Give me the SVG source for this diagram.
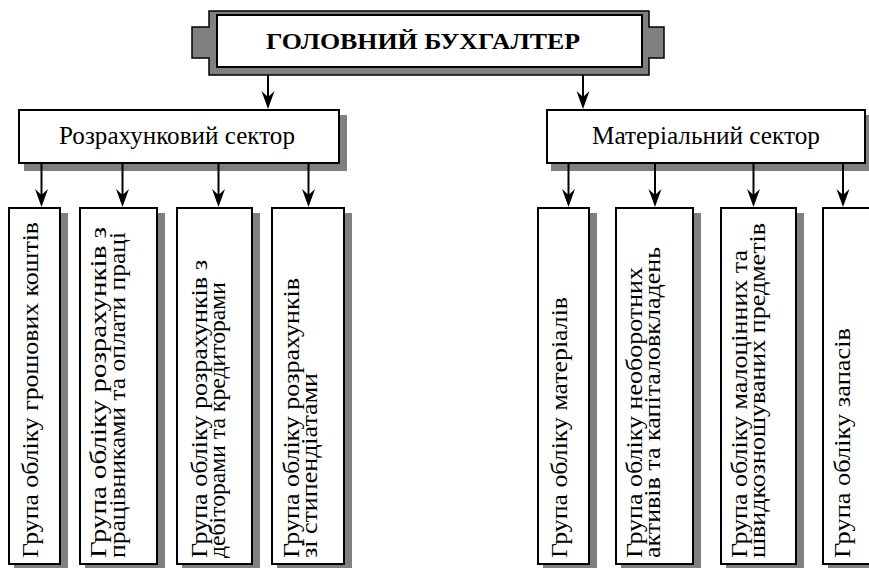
<svg xmlns="http://www.w3.org/2000/svg" width="869" height="568" viewBox="0 0 869 568">
  <style>
    .frame { fill: #808080; stroke: #000; stroke-width: 1.5; }
    .box { fill: #fff; stroke: #000; stroke-width: 2; }
    .shadow { fill: #808080; }
    .title { font-family: "Liberation Serif", "Times New Roman", serif; font-size: 24px; font-weight: bold; fill: #000; }
    .sector { font-family: "Liberation Serif", "Times New Roman", serif; font-size: 25px; fill: #000; }
    .group { font-family: "Liberation Serif", "Times New Roman", serif; font-size: 23px; fill: #000; }
    .link { stroke: #000; stroke-width: 2; fill: none; marker-end: url(#arrow); }
  </style>
  <defs>
    <marker id="arrow" markerUnits="userSpaceOnUse" viewBox="-12 -8 19 16" refX="0" refY="0" markerWidth="19" markerHeight="16" orient="auto">
      <path d="M6,0 L-12,-6.5 L-6,0 L-12,6.5 Z" fill="#000"/>
    </marker>
  </defs>

  <rect width="869" height="568" fill="#fff"/>

  <!-- chief accountant -->
  <g id="chief">
    <path class="frame" d="M209,11 H649 V27 H664 V58 H649 V75 H209 V58 H192 V27 H209 Z"/>
    <rect class="box" x="217" y="15" width="425" height="52" stroke-width="1.5"/>
    <text class="title" x="423" y="48.5" text-anchor="middle" textLength="314" lengthAdjust="spacingAndGlyphs">ГОЛОВНИЙ БУХГАЛТЕР</text>
  </g>

  <!-- sectors -->
  <g id="sector-settlements">
    <rect class="shadow" x="24" y="115" width="323" height="56"/>
    <rect class="box" x="19" y="110" width="320" height="53"/>
    <text class="sector" x="177" y="143.5" text-anchor="middle" textLength="236" lengthAdjust="spacingAndGlyphs">Розрахунковий сектор</text>
  </g>
  <g id="sector-materials">
    <rect class="shadow" x="551" y="115" width="321" height="56"/>
    <rect class="box" x="547" y="110" width="318" height="53"/>
    <text class="sector" x="706" y="143.5" text-anchor="middle" textLength="228" lengthAdjust="spacingAndGlyphs">Матеріальний сектор</text>
  </g>

  <!-- settlement groups -->
  <g id="group-cash">
    <rect class="shadow" x="14" y="213" width="54" height="360"/>
    <rect class="box" x="9" y="208" width="51" height="356"/>
    <text class="group" transform="translate(37.5,558) rotate(-90)" textLength="336" lengthAdjust="spacingAndGlyphs">Група обліку грошових коштів</text>
  </g>
  <g id="group-staff">
    <rect class="shadow" x="85" y="213" width="80" height="360"/>
    <rect class="box" x="80" y="208" width="77" height="356"/>
    <text class="group" transform="translate(106,558) rotate(-90)">
      <tspan x="0" y="0" textLength="331" lengthAdjust="spacingAndGlyphs">Група обліку розрахунків з</tspan>
      <tspan x="0" y="18.5" textLength="326" lengthAdjust="spacingAndGlyphs">працівниками та оплати праці</tspan>
    </text>
  </g>
  <g id="group-debtors">
    <rect class="shadow" x="182" y="213" width="78" height="360"/>
    <rect class="box" x="177" y="208" width="75" height="356"/>
    <text class="group" transform="translate(206.5,558) rotate(-90)">
      <tspan x="0" y="0" textLength="298" lengthAdjust="spacingAndGlyphs">Група обліку розрахунків з</tspan>
      <tspan x="0" y="18.5" textLength="276" lengthAdjust="spacingAndGlyphs">дебіторами та кредиторами</tspan>
    </text>
  </g>
  <g id="group-scholars">
    <rect class="shadow" x="277" y="213" width="75" height="360"/>
    <rect class="box" x="272" y="208" width="72" height="356"/>
    <text class="group" transform="translate(298.5,558) rotate(-90)">
      <tspan x="0" y="0" textLength="280" lengthAdjust="spacingAndGlyphs">Група обліку розрахунків</tspan>
      <tspan x="0" y="18.5" textLength="185" lengthAdjust="spacingAndGlyphs">зі стипендіатами</tspan>
    </text>
  </g>

  <!-- material groups -->
  <g id="group-materials">
    <rect class="shadow" x="543" y="213" width="54" height="360"/>
    <rect class="box" x="538" y="208" width="51" height="356"/>
    <text class="group" transform="translate(566.5,558) rotate(-90)" textLength="261" lengthAdjust="spacingAndGlyphs">Група обліку матеріалів</text>
  </g>
  <g id="group-assets">
    <rect class="shadow" x="621" y="213" width="80" height="360"/>
    <rect class="box" x="616" y="208" width="77" height="356"/>
    <text class="group" transform="translate(641.5,558) rotate(-90)">
      <tspan x="0" y="0" textLength="291" lengthAdjust="spacingAndGlyphs">Група обліку необоротних</tspan>
      <tspan x="0" y="18.5" textLength="311" lengthAdjust="spacingAndGlyphs">активів та капіталовкладень</tspan>
    </text>
  </g>
  <g id="group-lowvalue">
    <rect class="shadow" x="726" y="213" width="78" height="360"/>
    <rect class="box" x="721" y="208" width="75" height="356"/>
    <text class="group" transform="translate(746.5,558) rotate(-90)">
      <tspan x="0" y="0" textLength="308" lengthAdjust="spacingAndGlyphs">Група обліку малоцінних та</tspan>
      <tspan x="0" y="18.5" textLength="335" lengthAdjust="spacingAndGlyphs">швидкозношуваних предметів</tspan>
    </text>
  </g>
  <g id="group-stocks">
    <rect class="shadow" x="828" y="213" width="60" height="360"/>
    <rect class="box" x="823" y="208" width="60" height="356"/>
    <text class="group" transform="translate(850,558) rotate(-90)" textLength="230" lengthAdjust="spacingAndGlyphs">Група обліку запасів</text>
  </g>

  <!-- connectors -->
  <g id="connectors">
    <line class="link" x1="268" y1="75" x2="268" y2="103"/>
    <line class="link" x1="583" y1="75" x2="583" y2="103"/>
    <line class="link" x1="41.5" y1="163" x2="41.5" y2="201"/>
    <line class="link" x1="122.5" y1="163" x2="122.5" y2="201"/>
    <line class="link" x1="218.5" y1="163" x2="218.5" y2="201"/>
    <line class="link" x1="308.5" y1="163" x2="308.5" y2="201"/>
    <line class="link" x1="568.5" y1="163" x2="568.5" y2="201"/>
    <line class="link" x1="655" y1="163" x2="655" y2="201"/>
    <line class="link" x1="753.5" y1="163" x2="753.5" y2="201"/>
    <line class="link" x1="843" y1="163" x2="843" y2="201"/>
  </g>
</svg>
